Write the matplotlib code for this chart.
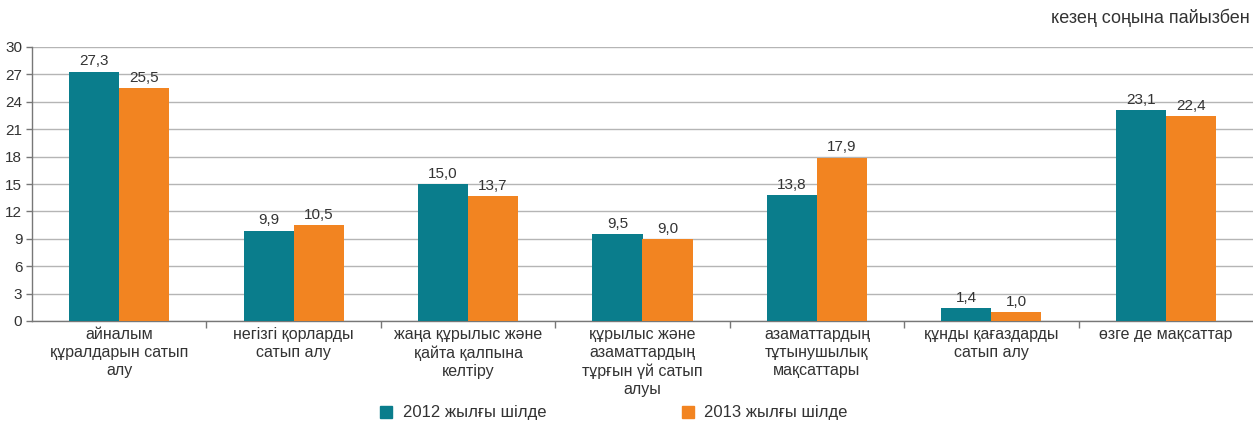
import matplotlib

matplotlib.use("Agg")
import matplotlib.pyplot as plt  # noqa: E402
import numpy as np  # noqa: E402
from matplotlib.lines import Line2D  # noqa: E402

plt.rcParams["font.family"] = ["Liberation Sans", "DejaVu Sans"]

categories = [
    "айналым\nқұралдарын сатып\nалу",
    "негізгі қорларды\nсатып алу",
    "жаңа құрылыс және\nқайта қалпына\nкелтіру",
    "құрылыс және\nазаматтардың\nтұрғын үй сатып\nалуы",
    "азаматтардың\nтұтынушылық\nмақсаттары",
    "құнды қағаздарды\nсатып алу",
    "өзге де мақсаттар",
]
jul_2012 = [27.3, 9.9, 15.0, 9.5, 13.8, 1.4, 23.1]
jul_2013 = [25.5, 10.5, 13.7, 9.0, 17.9, 1.0, 22.4]
series_names = ["2012 жылғы шілде", "2013 жылғы шілде"]
yticks = [0, 3, 6, 9, 12, 15, 18, 21, 24, 27, 30]

TEAL = "#0a7d8c"
ORANGE = "#f28421"
TEXT = "#333333"

fig = plt.figure(figsize=(12.53, 4.21), dpi=100)
ax = fig.add_axes([32 / 1253, 100 / 421, 1 - 32 / 1253, 274 / 421])

x = np.arange(len(categories))
w = 0.287
b1 = ax.bar(x - w / 2, jul_2012, w, color=TEAL, zorder=3)
b2 = ax.bar(x + w / 2, jul_2013, w, color=ORANGE, zorder=3)
for bars, vals in ((b1, jul_2012), (b2, jul_2013)):
    for r, v in zip(bars, vals):
        ax.text(r.get_x() + r.get_width() / 2, v + 0.35, f"{v:.1f}".replace(".", ","),
                ha="center", va="bottom", fontsize=11, color=TEXT)

ax.set_xlim(-0.5, len(categories) - 0.5)
ax.set_ylim(0, 30)
ax.set_yticks(yticks)
ax.set_yticklabels([str(t) for t in yticks], fontsize=11, color=TEXT)
ax.yaxis.grid(True, color="#b5b5b5", linewidth=1, zorder=0)

ax.set_xticks(x)
ax.set_xticklabels(categories, fontsize=11.5, color=TEXT, linespacing=1.28)
ax.tick_params(axis="x", which="major", length=0, pad=4)
ax.set_xticks(np.arange(0.5, len(categories) - 0.5), minor=True)
ax.tick_params(axis="x", which="minor", length=5, color="#777777", width=1)
ax.tick_params(axis="y", length=4, color="#777777", width=1, pad=3)

for side in ("top", "right"):
    ax.spines[side].set_visible(False)
for side in ("left", "bottom"):
    ax.spines[side].set_color("#777777")
    ax.spines[side].set_linewidth(1)

fig.text(1250 / 1253, 1 - 18 / 421, "кезең соңына пайызбен", ha="right", va="center",
         fontsize=13, color=TEXT)

handles = [
    Line2D([], [], marker="s", linestyle="none", markersize=8, color=TEAL),
    Line2D([], [], marker="s", linestyle="none", markersize=8, color=ORANGE),
]
fig.legend(handles, series_names, loc="center", bbox_to_anchor=(0.489, 1 - 413 / 421),
           ncol=2, frameon=False, fontsize=12, handletextpad=0.5, columnspacing=8.0,
           handlelength=1.0, labelcolor=TEXT)

fig.savefig("out.png", dpi=100)
